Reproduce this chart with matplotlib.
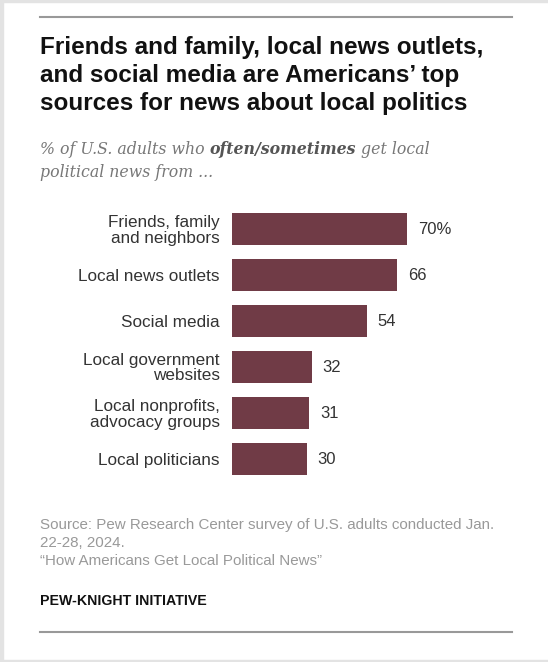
import matplotlib.pyplot as plt
from matplotlib.patches import Rectangle

sources = ["Friends, family\nand neighbors", "Local news outlets", "Social media",
           "Local government\nwebsites", "Local nonprofits,\nadvocacy groups",
           "Local politicians"]
values = [70, 66, 54, 32, 31, 30]
value_labels = ["70%", "66", "54", "32", "31", "30"]

W, H = 548, 662
fig = plt.figure(figsize=(W / 100, H / 100), dpi=100)
fig.patch.set_facecolor("white")

def fx(px):
    return px / W

def fy(py):
    return 1 - py / H

sans = ["Liberation Sans", "DejaVu Sans"]
serif = ["DejaVu Serif"]

# light grey frame
for x0, y0, w, h in [(0, 0, 3, H), (0, 0, W, 2), (0, H - 2, W, 2)]:
    fig.patches.append(Rectangle((fx(x0), fy(y0 + h)), w / W, h / H,
                                 transform=fig.transFigure, color="#e3e3e3", zorder=0))

# rules
fig.add_artist(plt.Line2D([fx(40), fx(512)], [fy(17), fy(17)], color="#999999", lw=1.5))
fig.add_artist(plt.Line2D([fx(40), fx(512)], [fy(632), fy(632)], color="#999999", lw=1.5))

# title
title = ("Friends and family, local news outlets,\n"
         "and social media are Americans\u2019 top\n"
         "sources for news about local politics")
fig.text(fx(40), fy(36), title, ha="left", va="top", fontsize=17.5, fontweight="bold",
         family=sans, color="#111111", linespacing=1.27)

# subtitle with bold part
sub_color = "#777777"
fs_sub = 11.3
t1 = fig.text(fx(40), fy(154), "% of U.S. adults who ", ha="left", va="baseline",
              fontsize=fs_sub, style="italic", family=serif, color=sub_color)
t2 = fig.text(0, 0, "often/sometimes", fontsize=fs_sub, style="italic", fontweight="bold",
              family=serif, color="#555555")
t3 = fig.text(0, 0, " get local", fontsize=fs_sub, style="italic", family=serif, color=sub_color)
fig.text(fx(40), fy(177), "political news from ...", ha="left", va="baseline",
         fontsize=fs_sub, style="italic", family=serif, color=sub_color)

fig.canvas.draw()
r = fig.canvas.get_renderer()
bb = t1.get_window_extent(r)
t2.set_position((bb.x1 / W, fy(154)))
t2.set_va("baseline")
fig.canvas.draw()
bb = t2.get_window_extent(r)
t3.set_position((bb.x1 / W, fy(154)))
t3.set_va("baseline")

# bars
ax = fig.add_axes([fx(231.7), fy(482), 250 / W, 276 / H])
ypos = list(range(len(sources)))
ax.barh(ypos, values, height=0.7, color="#703b46")
ax.set_xlim(0, 100)
ax.set_ylim(len(sources) - 0.5, -0.5)
ax.set_yticks(ypos)
ax.set_yticklabels(sources, fontsize=12.3, family=sans, color="#333333", linespacing=1.0)
ax.tick_params(axis="y", length=0, pad=8.5)
ax.set_xticks([])
for s in ax.spines.values():
    s.set_visible(False)
for lab in ax.get_yticklabels():
    lab.set_ha("right")
for i, (v, lab) in enumerate(zip(values, value_labels)):
    ax.annotate(lab, (v, i), xytext=(8, 0), textcoords="offset points", va="center",
                ha="left", fontsize=12, family=sans, color="#333333")

# source
src = ("Source: Pew Research Center survey of U.S. adults conducted Jan.\n"
       "22-28, 2024.\n"
       "\u201cHow Americans Get Local Political News\u201d")
fig.text(fx(40), fy(518), src, ha="left", va="top", fontsize=10.9, family=sans,
         color="#999999", linespacing=1.37)
fig.text(fx(40), fy(605), "PEW-KNIGHT INITIATIVE", ha="left", va="baseline",
         fontsize=10.2, fontweight="bold", family=sans, color="#111111")

fig.savefig("out.png", dpi=100, facecolor="white")
